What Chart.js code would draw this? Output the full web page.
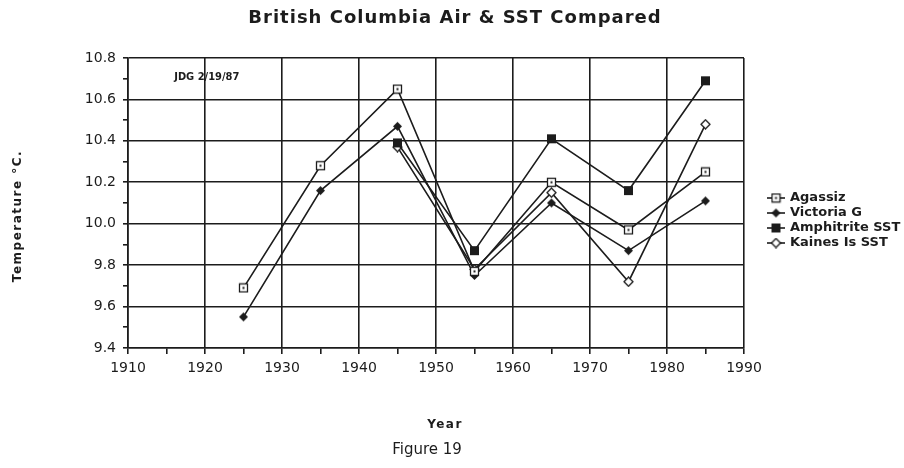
<!DOCTYPE html>
<html>
<head>
<meta charset="utf-8">
<script src="https://cdn.jsdelivr.net/npm/chart.js@4.4.0/dist/chart.umd.min.js"></script>
<style>
  html, body { margin: 0; padding: 0; background: #fff; }
  #wrap { width: 904px; height: 468px; }
</style>
</head>
<body>
<div id="wrap"><canvas id="chart"></canvas></div>
<script>
// values
const years = [1925, 1935, 1945, 1955, 1965, 1975, 1985];
const agassiz = [9.69, 10.28, 10.65, 9.77, 10.20, 9.97, 10.25];
const victoriaG = [9.55, 10.16, 10.47, 9.75, 10.10, 9.87, 10.11];
const amphitriteSST = [null, null, 10.39, 9.87, 10.41, 10.16, 10.69];
const kainesSST = [null, null, 10.37, 9.78, 10.15, 9.72, 10.48];
const seriesNames = ['Agassiz', 'Victoria G', 'Amphitrite SST', 'Kaines Is SST'];
const titleText = 'British Columbia Air & SST Compared';
const captionText = 'Figure 19';
const xTitle = 'Year';
const yTitle = 'Temperature °C.';
const noteText = 'JDG 2/19/87';
const notePos = { x: 1916.0, y: 10.71 };

const INK = '#1c1c1c';

// little canvases used as point styles (plot + legend)
function makeMarker(kind) {
    const c = document.createElement('canvas');
    c.width = 11; c.height = 11;
    const g = c.getContext('2d');
    g.fillStyle = INK;
    g.strokeStyle = INK;
    g.lineWidth = 1.3;
    if (kind === 'openSquare') {
        g.fillStyle = '#fff';
        g.fillRect(1.5, 1.5, 8, 8);
        g.strokeRect(1.5, 1.5, 8, 8);
        g.fillStyle = INK;
        g.fillRect(4.5, 4.5, 2, 2);
    } else if (kind === 'square') {
        g.fillRect(1, 1, 9, 9);
    } else {
        g.beginPath();
        g.moveTo(5.5, 1); g.lineTo(10, 5.5); g.lineTo(5.5, 10); g.lineTo(1, 5.5);
        g.closePath();
        if (kind === 'openDiamond') {
            g.fillStyle = '#fff';
            g.fill();
            g.stroke();
        } else {
            g.fill();
        }
    }
    return c;
}

const markers = [makeMarker('openSquare'), makeMarker('diamond'), makeMarker('square'), makeMarker('openDiamond')];
const seriesValues = [agassiz, victoriaG, amphitriteSST, kainesSST];

function toPoints(vals) {
    return years.map((x, i) => ({ x: x, y: vals[i] })).filter(p => p.y !== null);
}

const datasets = seriesNames.map((name, i) => ({
    label: name,
    data: toPoints(seriesValues[i]),
    borderColor: INK,
    backgroundColor: INK,
    borderWidth: 1.6,
    pointStyle: markers[i],
    pointRadius: 5,
    tension: 0
}));

const isMajor = (v, step) => Math.abs(Math.round(v / step) * step - v) < 1e-6;

// titles, caption, side legend and note text (need letter spacing)
const extras = {
    id: 'extras',
    afterDraw(chart) {
        const ctx = chart.ctx;
        ctx.save();
        ctx.fillStyle = INK;
        ctx.textBaseline = 'middle';
        ctx.textAlign = 'center';

        ctx.font = 'bold 18px "DejaVu Sans"';
        ctx.letterSpacing = '1px';
        ctx.fillText(titleText, 455, 18);

        ctx.font = 'bold 12px "DejaVu Sans"';
        ctx.letterSpacing = '1.5px';
        ctx.fillText(xTitle, 445, 425);
        ctx.save();
        ctx.translate(18, 216);
        ctx.rotate(-Math.PI / 2);
        ctx.fillText(yTitle, 0, 0);
        ctx.restore();
        ctx.letterSpacing = '0px';

        ctx.font = '15px "DejaVu Sans"';
        ctx.fillText(captionText, 427, 450);

        ctx.textAlign = 'left';
        ctx.font = 'bold 13px "DejaVu Sans"';
        chart.data.datasets.forEach((ds, i) => {
            const y = 198 + i * 15;
            ctx.strokeStyle = INK;
            ctx.lineWidth = 1.6;
            ctx.beginPath();
            ctx.moveTo(767, y);
            ctx.lineTo(785, y);
            ctx.stroke();
            ctx.drawImage(markers[i], 776 - 5.5, y - 5.5);
            ctx.fillText(ds.label, 790, y);
        });

        const xs = chart.scales.x, ys = chart.scales.y;
        ctx.font = 'bold 11px "Liberation Sans Narrow", "DejaVu Sans Condensed"';
        ctx.fillText(noteText, xs.getPixelForValue(notePos.x), ys.getPixelForValue(notePos.y));
        ctx.restore();
    }
};

new Chart(document.getElementById('chart'), {
    type: 'line',
    data: { datasets: datasets },
    options: {
        responsive: true,
        maintainAspectRatio: false,
        animation: false,
        layout: { padding: { left: 0, right: 160, top: 58, bottom: 36 } },
        plugins: {
            legend: { display: false },
            tooltip: { enabled: false }
        },
        scales: {
            x: {
                type: 'linear',
                min: 1910,
                max: 1990,
                afterFit: s => { s.height = 84; },
                ticks: {
                    stepSize: 5,
                    autoSkip: false,
                    maxRotation: 0,
                    color: INK,
                    padding: 6,
                    font: { family: 'DejaVu Sans', size: 14 },
                    callback: v => isMajor(v, 10) ? v : ''
                },
                grid: {
                    color: c => isMajor(c.tick.value, 10) ? INK : 'rgba(0,0,0,0)',
                    tickColor: INK,
                    lineWidth: 1.6,
                    tickLength: 6
                },
                border: { color: INK, width: 1.6 }
            },
            y: {
                min: 9.4,
                max: 10.8,
                afterFit: s => { s.width = 128; },
                ticks: {
                    stepSize: 0.1,
                    autoSkip: false,
                    color: INK,
                    padding: 7,
                    font: { family: 'DejaVu Sans', size: 14 },
                    callback: v => isMajor(v, 0.2) ? v.toFixed(1) : ''
                },
                grid: {
                    color: c => isMajor(c.tick.value, 0.2) ? INK : 'rgba(0,0,0,0)',
                    tickColor: INK,
                    lineWidth: 1.6,
                    tickLength: 5
                },
                border: { color: INK, width: 1.6 }
            }
        }
    },
    plugins: [extras]
});
</script>
</body>
</html>
